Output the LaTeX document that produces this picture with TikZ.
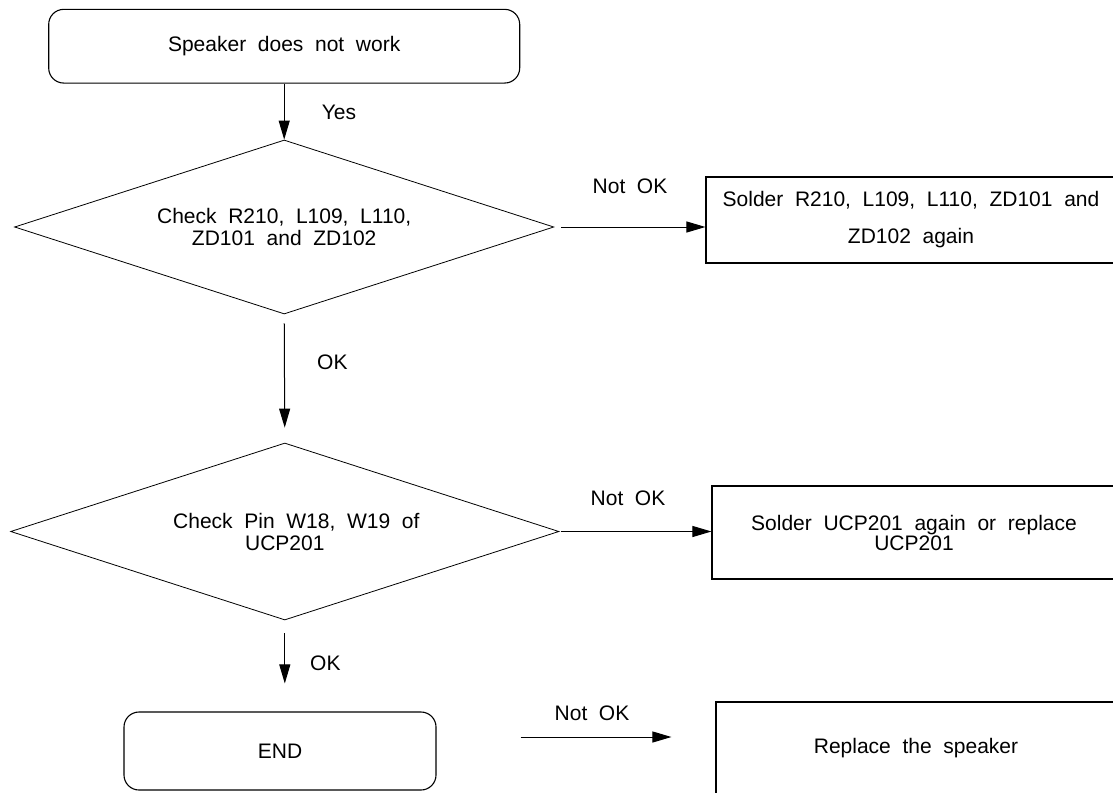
\documentclass[tikz,border=0pt]{standalone}
\usepackage{fontspec}
\setmainfont{Liberation Sans}[WordSpace=2]
\usetikzlibrary{shapes.geometric,arrows.meta}
\tikzset{
  box/.style={draw, line width=1.1pt, rectangle, inner sep=0pt, align=center,
    font=\fontsize{21}{22}\selectfont},
  roundbox/.style={box, rounded corners=15pt},
  decision/.style={draw, line width=0.8pt, diamond, aspect=3.1, inner sep=0pt, align=center,
    font=\fontsize{21}{22}\selectfont},
  arr/.style={line width=1pt, -{Triangle[length=19pt,width=11pt]}},
  lbl/.style={font=\fontsize{21}{22}\selectfont, inner sep=0pt}
}
\begin{document}
\begin{tikzpicture}[x=1pt,y=-1pt]
\useasboundingbox (0,0) rectangle (1113,792);
\clip (0,0) rectangle (1113,792);
% nodes
\node[roundbox, minimum width=471pt, minimum height=73.7pt] (start) at (284.2,46.2) {Speaker does not work};
\node[decision, minimum width=539.3pt, minimum height=174pt] (d1) at (284.2,227) {Check R210, L109, L110,\\ZD101 and ZD102};
\node[box, minimum width=410pt, minimum height=86pt, font=\fontsize{21}{37}\selectfont] (s1) at (911,220) {Solder R210, L109, L110, ZD101 and\\ZD102 again};
\node[decision, minimum width=548.3pt, minimum height=177pt] (d2) at (284.8,531.5) {\hspace*{23pt}Check Pin W18, W19 of\\UCP201};
\node[box, minimum width=404pt, minimum height=93pt, font=\fontsize{21}{20}\selectfont] (s2) at (914,532.5) {Solder UCP201 again or replace\\UCP201};
\node[roundbox, minimum width=312pt, minimum height=78pt] (end) at (280,751) {END};
\node[box, minimum width=400pt, minimum height=92pt] (s3) at (916,748) {Replace the speaker};
% labels
\node[lbl] (lyes) at (339,112) {Yes};
\node[lbl] (lnok1) at (630,186) {Not OK};
\node[lbl, anchor=west] (lok1) at (317,362) {OK};
\node[lbl] (lnok2) at (628,498) {Not OK};
\node[lbl, anchor=west] (lok2) at (310,663) {OK};
\node[lbl] (lnok3) at (592,713) {Not OK};
% connectors
\draw[arr] (start.south) -- (d1.north);
\coordinate (a2s) at ([xshift=7pt]d1.east);
\draw[arr] (a2s) -- (a2s -| s1.west);
\draw[arr, shorten <=9pt, shorten >=15pt] (d1.south) -- (d2.north);
\coordinate (a4s) at ([xshift=2pt]d2.east);
\draw[arr] (a4s) -- (a4s -| s2.west);
\draw[arr, shorten <=13pt, shorten >=28pt] (d2.south) -- (d2.south |- end.north);
\coordinate (a6s) at ([xshift=84pt,yshift=14pt]end.east);
\coordinate (a6e) at ([xshift=-44pt]a6s -| s3.west);
\draw[arr] (a6s) -- (a6e);
\end{tikzpicture}
\end{document}
